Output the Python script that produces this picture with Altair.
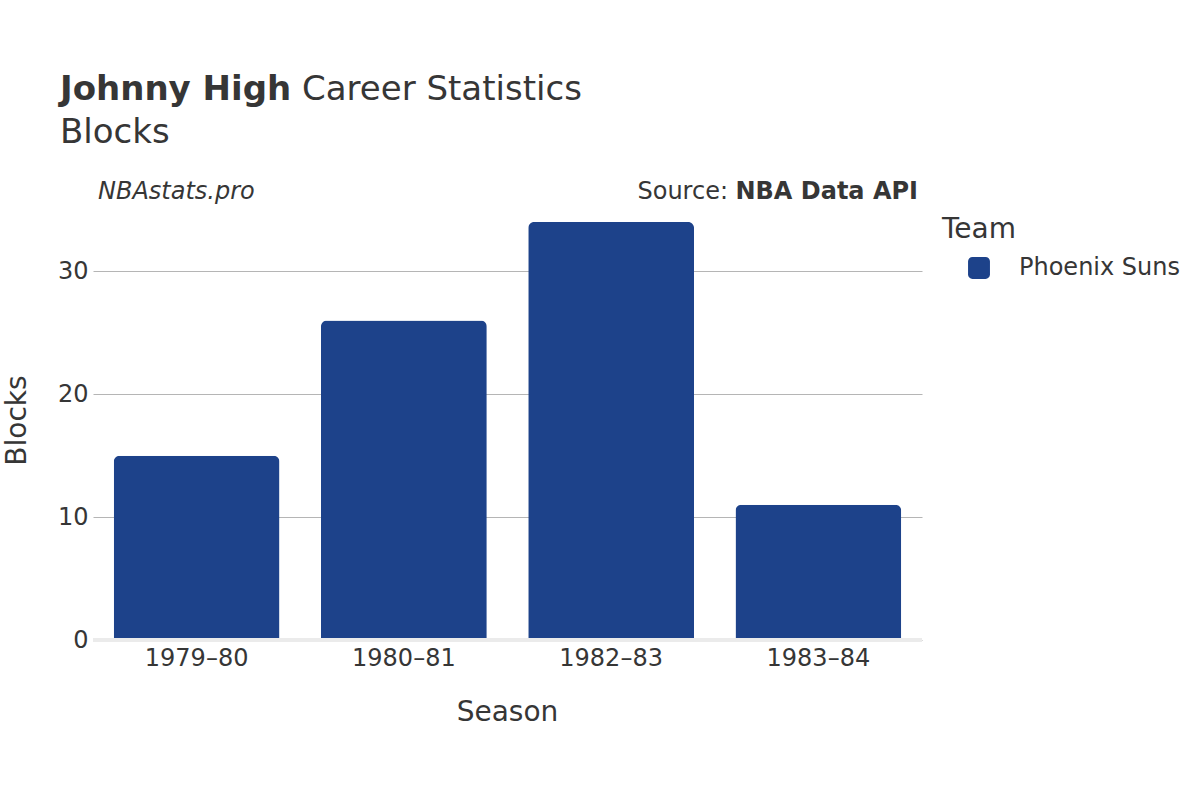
import altair as alt
import pandas as pd

seasons = ["1979–80", "1980–81", "1982–83", "1983–84"]
blocks = [15, 26, 34, 11]
teams = ["Phoenix Suns"] * 4
bar_color = "#1d428a"
text_color = "#363636"
FONT = "DejaVu Sans"

df = pd.DataFrame({"Season": seasons, "Blocks": blocks, "Team": teams})

W, H = 829, 440
LEFT, TOP = 93, 200

x_enc = alt.X(
    "Season:N",
    sort=seasons,
    scale=alt.Scale(paddingInner=0.2, paddingOuter=0.1),
    axis=alt.Axis(
        title="Season", labelAngle=0, domain=False, ticks=False, labelPadding=6,
        labelFontSize=24, titleFontSize=28, titleFontWeight="normal",
        titleX=414, titleY=72, titleBaseline="middle", titleAlign="center",
    ),
)
y_enc = alt.Y(
    "Blocks:Q",
    scale=alt.Scale(domain=[0, 35.8], nice=False),
    axis=alt.Axis(
        title="Blocks", values=[0, 10, 20, 30], domain=False, ticks=False,
        labelPadding=5, labelFontSize=24, titleFontSize=28, titleFontWeight="normal",
        gridColor="#b5b5b5", gridWidth=1.2, titleX=-76, titleY=220,
        titleAngle=-90, titleBaseline="middle", titleAlign="center",
    ),
)

bars = alt.Chart(df).mark_bar(
    cornerRadiusTopLeft=6, cornerRadiusTopRight=6
).encode(
    x=x_enc,
    y=y_enc,
    color=alt.Color(
        "Team:N",
        scale=alt.Scale(range=[bar_color]),
        legend=alt.Legend(
            title="Team", orient="none", legendX=849, legendY=16,
            titleFontSize=28, labelFontSize=24, titleFontWeight="normal",
            symbolType="M -0.6,-1 L 0.6,-1 A 0.4,0.4 0 0 1 1,-0.6 L 1,0.6 A 0.4,0.4 0 0 1 0.6,1 L -0.6,1 A 0.4,0.4 0 0 1 -1,0.6 L -1,-0.6 A 0.4,0.4 0 0 1 -0.6,-1 Z",
            symbolSize=480, symbolStrokeWidth=0, symbolOpacity=1,
            symbolOffset=25, labelOffset=28, titlePadding=12, padding=0,
            labelLimit=300,
        ),
    ),
)

zero = alt.Chart(pd.DataFrame({"Blocks": [0]})).mark_rule(color="#ebebeb", strokeWidth=4).encode(
    y=y_enc
)

one = pd.DataFrame({"a": [0]})

def txt(s, x, y, size, weight="normal", style="normal", align="left"):
    return alt.Chart(one).mark_text(
        text=s, fontSize=size, fontWeight=weight, fontStyle=style, align=align,
        baseline="middle", color=text_color, font=FONT,
    ).encode(x=alt.value(x), y=alt.value(y))

texts = [
    txt("Johnny High", 60 - LEFT, 90 - TOP, 34, weight="bold"),
    txt("Career Statistics", 302 - LEFT, 90 - TOP, 34),
    txt("Blocks", 60 - LEFT, 133 - TOP, 34),
    txt("NBAstats.pro", 98 - LEFT, 192 - TOP, 24, style="italic"),
    txt("NBA Data API", 918 - LEFT, 192 - TOP, 24, weight="bold", align="right"),
    txt("Source:", 728 - LEFT, 192 - TOP, 24, align="right"),
]

chart = alt.layer(bars, zero, *texts).properties(
    width=W, height=H,
    autosize=alt.AutoSizeParams(type="none"),
    padding={"left": LEFT, "top": TOP, "right": 1200 - LEFT - W, "bottom": 800 - TOP - H},
    background="white",
).configure_view(stroke=None).configure_axis(
    labelColor=text_color, titleColor=text_color, labelFont=FONT, titleFont=FONT,
).configure_legend(
    labelColor=text_color, titleColor=text_color, labelFont=FONT, titleFont=FONT,
)

chart.save("out.html", embed_options={"renderer": "svg", "actions": False})
